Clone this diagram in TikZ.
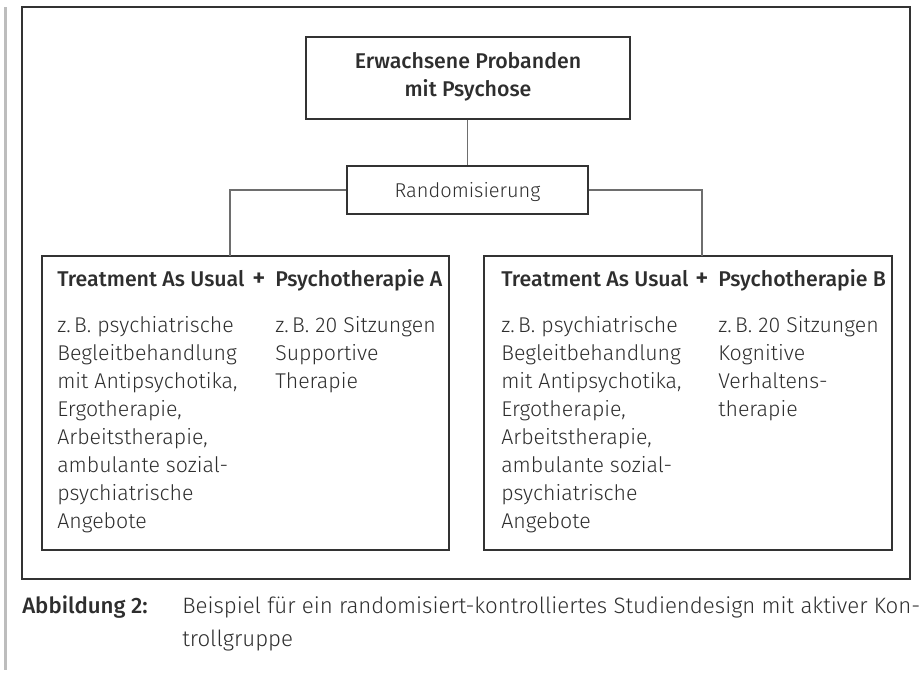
\documentclass[tikz,border=0pt]{standalone}
\usepackage{fontspec}
\setmainfont{Fira Sans}[UprightFont=* Light, BoldFont=* Medium]
\definecolor{ink}{HTML}{2E2E2E}
\definecolor{linec}{HTML}{333333}
\definecolor{conn}{HTML}{6E6E6E}
\definecolor{barc}{HTML}{BDBDBD}
\begin{document}
\begin{tikzpicture}[x=0.75pt,y=-0.75pt,
  box/.style={draw=linec, line width=0.9pt, inner sep=0pt, fill=none},
  conline/.style={draw=conn, line width=0.9pt},
  txt/.style={anchor=base west, inner sep=0pt, text=ink, font=\fontsize{16}{21}\selectfont},
  btxt/.style={txt, font=\fontsize{16}{21}\selectfont\bfseries},
  ctxt/.style={anchor=base, inner sep=0pt, text=ink, font=\fontsize{16}{21}\selectfont\bfseries},
  captxt/.style={anchor=base west, inner sep=0pt, text=ink, font=\fontsize{16.7}{21}\selectfont}]
\useasboundingbox (0,0) rectangle (920,673);
% left bar and outer frame
\fill[barc] (4,7) rectangle (7,670);
\draw[linec, line width=0.8pt] (22,7) rectangle (910,579);
% boxes
\node[box, minimum width=243pt, minimum height=61.5pt] (top) at (468,78) {};
\node[box, minimum width=180.75pt, minimum height=36pt] (rand) at (467.5,190) {};
\node[box, minimum width=305.25pt, minimum height=220.5pt] (lbox) at (245.5,403) {};
\node[box, minimum width=306pt, minimum height=220.5pt] (rbox) at (688,403) {};
\coordinate (lj) at (230,256);
\coordinate (rj) at (702,256);
% connectors
\draw[conline] (top.south -| rand.north) -- (rand.north);
\draw[conline] (rand.west) -| (lj);
\draw[conline] (rand.east) -| (rj);
% top texts
\node[ctxt] (t1) at (468,69) {Erwachsene Probanden};
\node[ctxt] (t2) at (468,97) {mit Psychose};
\node[anchor=base, inner sep=0pt, text=ink, font=\fontsize{15}{21}\selectfont] (rt) at (467.5,198) {Randomisierung};
% headers
\node[btxt] (lh1) at (57,287) {Treatment As Usual};
\node[ctxt, font=\fontsize{19}{21}\selectfont\bfseries] (lp) at (259,287) {+};
\node[btxt] (lh2) at (275,287) {Psychotherapie A};
\node[btxt] (rh1) at (501,287) {Treatment As Usual};
\node[ctxt, font=\fontsize{19}{21}\selectfont\bfseries] (rp) at (702,287) {+};
\node[btxt] (rh2) at (718,287) {Psychotherapie B};
% columns
\foreach \t [count=\i] in {z.\,B. psychiatrische, Begleitbehandlung, {mit Antipsychotika,}, {Ergotherapie,}, {Arbeitstherapie,}, ambulante sozial-, psychiatrische, Angebote}{
  \node[txt] (la\i) at (57,{332+28*(\i-1)}) {\t};
  \node[txt] (ra\i) at (501,{332+28*(\i-1)}) {\t};
}
\foreach \t [count=\i] in {z.\,B. 20 Sitzungen, Supportive, Therapie}{
  \node[txt] (lb\i) at (275,{332+28*(\i-1)}) {\t};
}
\foreach \t [count=\i] in {z.\,B. 20 Sitzungen, Kognitive, Verhaltens-, therapie}{
  \node[txt] (rb\i) at (718,{332+28*(\i-1)}) {\t};
}
% caption
\node[captxt, font=\fontsize{16.7}{21}\selectfont\bfseries] (cap) at (22,613) {Abbildung 2:};
\node[captxt] (c1) at (182,613) {Beispiel für ein randomisiert-kontrolliertes Studiendesign mit aktiver Kon-};
\node[captxt] (c2) at (182,646) {trollgruppe};
\end{tikzpicture}
\end{document}
